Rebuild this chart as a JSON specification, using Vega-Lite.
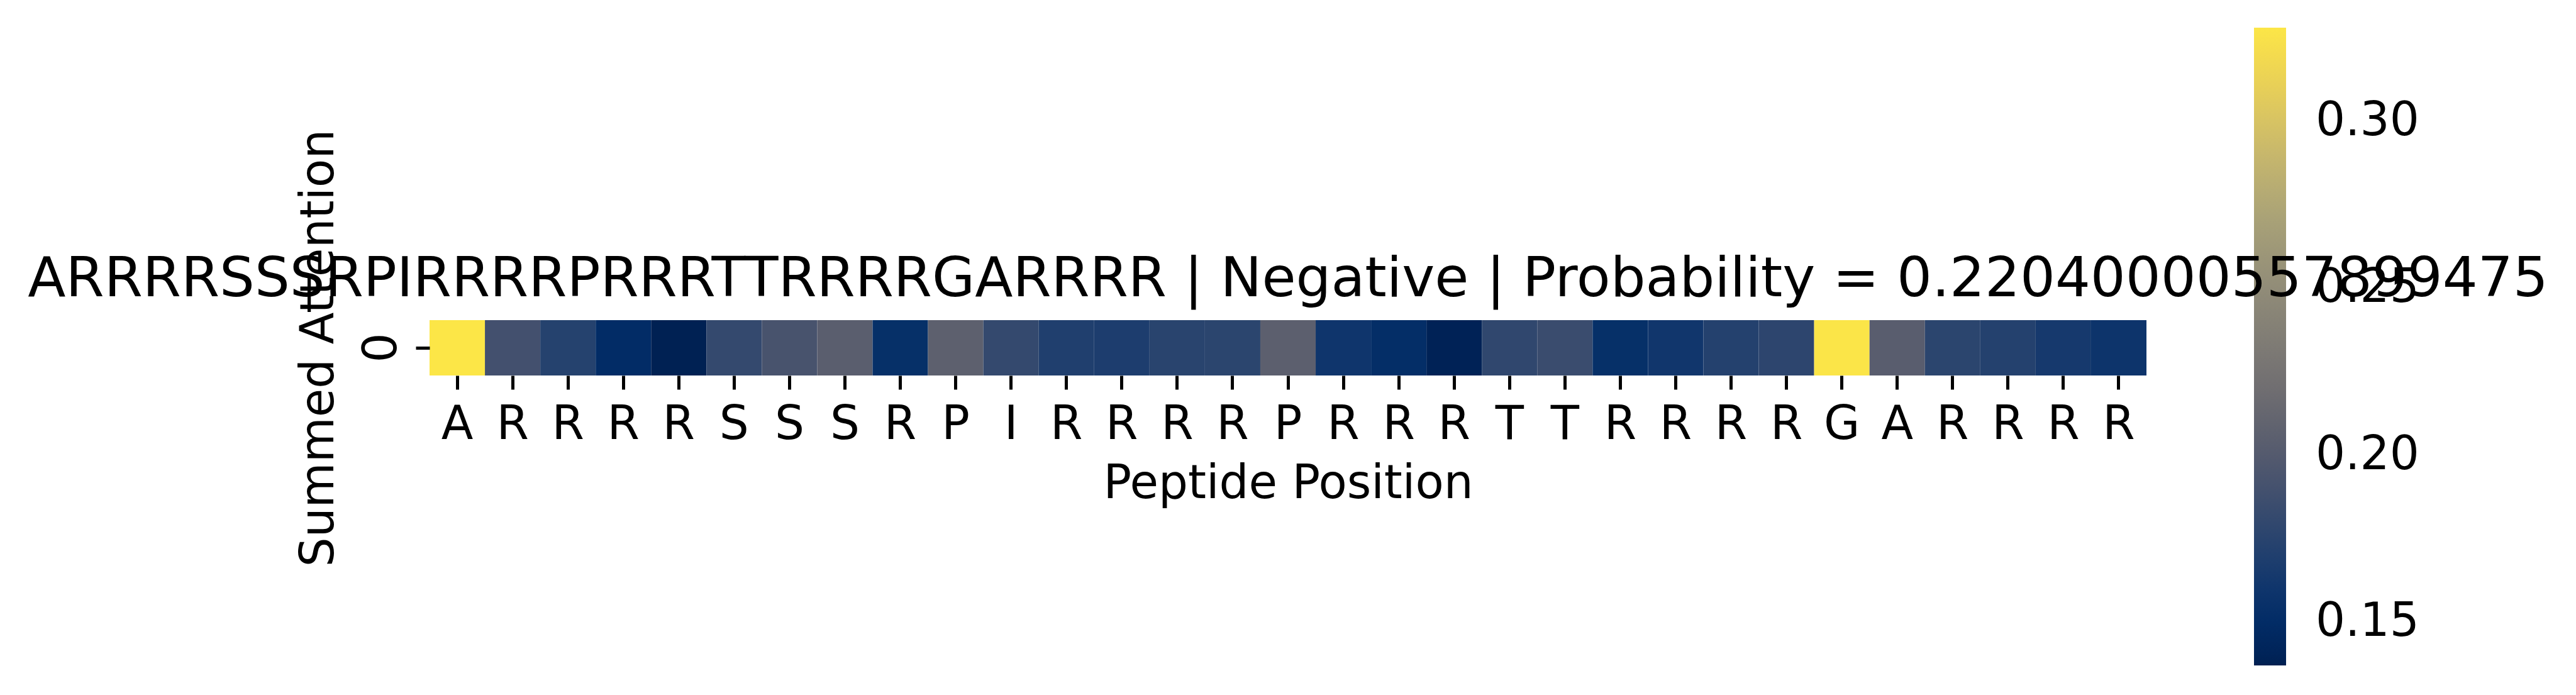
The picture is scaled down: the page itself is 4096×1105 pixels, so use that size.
{
  "$schema": "https://vega.github.io/schema/vega-lite/v6.json",
  "autosize": {"type": "none"},
  "padding": {"left": 683, "top": 509, "right": 683, "bottom": 508},
  "width": 2730,
  "height": 88,
  "background": "white",
  "config": {
    "view": {"stroke": null},
    "font": "DejaVu Sans",
    "axis": {
      "labelFont": "DejaVu Sans",
      "labelFontSize": 74,
      "labelColor": "black",
      "titleFont": "DejaVu Sans",
      "titleFontSize": 74,
      "titleFontWeight": "normal",
      "titleColor": "black",
      "tickColor": "black",
      "tickWidth": 5,
      "tickSize": 22,
      "domain": false,
      "grid": false,
      "labelOverlap": false,
      "labelFlush": false,
      "labelBound": false
    }
  },
  "title": {
    "text": "ARRRRSSSRPIRRRRPRRRTTRRRRGARRRR | Negative | Probability = 0.22040000557899475",
    "font": "DejaVu Sans",
    "fontSize": 88,
    "fontWeight": "normal",
    "color": "black",
    "anchor": "middle",
    "baseline": "alphabetic",
    "offset": 38,
    "dy": 553
  },
  "data": {
    "values": [
      {"pos": 0, "residue": "A", "row": "0", "attention": 0.328},
      {"pos": 1, "residue": "R", "row": "0", "attention": 0.189},
      {"pos": 2, "residue": "R", "row": "0", "attention": 0.173},
      {"pos": 3, "residue": "R", "row": "0", "attention": 0.150},
      {"pos": 4, "residue": "R", "row": "0", "attention": 0.138},
      {"pos": 5, "residue": "S", "row": "0", "attention": 0.181},
      {"pos": 6, "residue": "S", "row": "0", "attention": 0.192},
      {"pos": 7, "residue": "S", "row": "0", "attention": 0.204},
      {"pos": 8, "residue": "R", "row": "0", "attention": 0.154},
      {"pos": 9, "residue": "P", "row": "0", "attention": 0.206},
      {"pos": 10, "residue": "I", "row": "0", "attention": 0.181},
      {"pos": 11, "residue": "R", "row": "0", "attention": 0.170},
      {"pos": 12, "residue": "R", "row": "0", "attention": 0.168},
      {"pos": 13, "residue": "R", "row": "0", "attention": 0.175},
      {"pos": 14, "residue": "R", "row": "0", "attention": 0.176},
      {"pos": 15, "residue": "P", "row": "0", "attention": 0.205},
      {"pos": 16, "residue": "R", "row": "0", "attention": 0.160},
      {"pos": 17, "residue": "R", "row": "0", "attention": 0.152},
      {"pos": 18, "residue": "R", "row": "0", "attention": 0.139},
      {"pos": 19, "residue": "T", "row": "0", "attention": 0.179},
      {"pos": 20, "residue": "T", "row": "0", "attention": 0.184},
      {"pos": 21, "residue": "R", "row": "0", "attention": 0.154},
      {"pos": 22, "residue": "R", "row": "0", "attention": 0.161},
      {"pos": 23, "residue": "R", "row": "0", "attention": 0.172},
      {"pos": 24, "residue": "R", "row": "0", "attention": 0.177},
      {"pos": 25, "residue": "G", "row": "0", "attention": 0.327},
      {"pos": 26, "residue": "A", "row": "0", "attention": 0.203},
      {"pos": 27, "residue": "R", "row": "0", "attention": 0.176},
      {"pos": 28, "residue": "R", "row": "0", "attention": 0.172},
      {"pos": 29, "residue": "R", "row": "0", "attention": 0.164},
      {"pos": 30, "residue": "R", "row": "0", "attention": 0.158}
    ]
  },
  "mark": {"type": "rect"},
  "encoding": {
    "x": {
      "field": "pos",
      "type": "ordinal",
      "scale": {"paddingInner": 0, "paddingOuter": 0},
      "axis": {
        "title": "Peptide Position",
        "labelAngle": 0,
        "labelAlign": "center",
        "labelBaseline": "alphabetic",
        "labelPadding": 78,
        "labelExpr": "substring('ARRRRSSSRPIRRRRPRRRTTRRRRGARRRR', datum.value, datum.value + 1)",
        "titleX": 1365,
        "titleY": 194.6,
        "titleAlign": "center",
        "titleBaseline": "alphabetic"
      }
    },
    "y": {
      "field": "row",
      "type": "nominal",
      "scale": {"paddingInner": 0, "paddingOuter": 0},
      "axis": {
        "title": "Summed Attention",
        "labelAngle": 270,
        "labelAlign": "center",
        "labelBaseline": "alphabetic",
        "labelPadding": 32,
        "titleAngle": 270,
        "titleX": -154,
        "titleY": 44,
        "titleAlign": "center",
        "titleBaseline": "alphabetic"
      }
    },
    "color": {
      "field": "attention",
      "type": "quantitative",
      "scale": {"scheme": "cividis", "domain": [0.137, 0.328]},
      "legend": {
        "orient": "none",
        "legendX": 2901,
        "legendY": -465,
        "direction": "vertical",
        "gradientLength": 1014,
        "gradientThickness": 51,
        "gradientStrokeWidth": 0,
        "title": null,
        "values": [0.15, 0.2, 0.25, 0.3],
        "format": ".2f",
        "labelFont": "DejaVu Sans",
        "labelFontSize": 74,
        "labelColor": "black",
        "labelOffset": 47,
        "labelOverlap": false,
        "padding": 0
      }
    }
  }
}
